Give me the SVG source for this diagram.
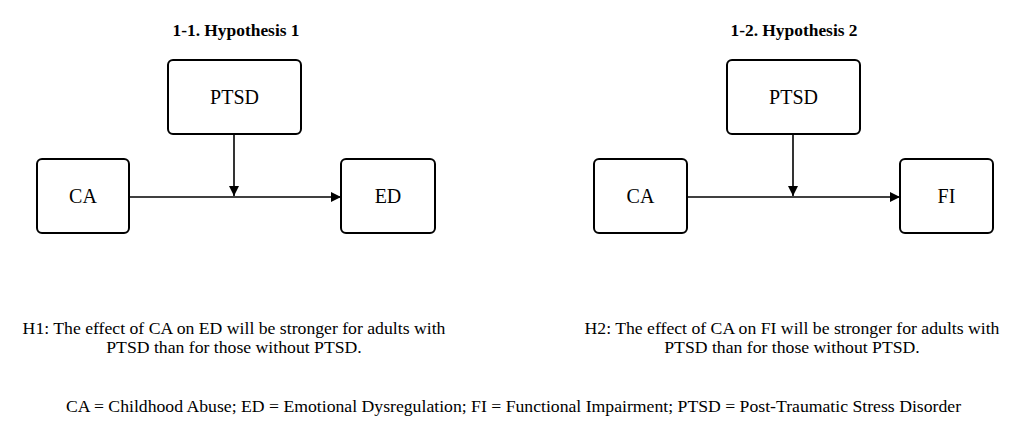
<svg xmlns="http://www.w3.org/2000/svg" width="1024" height="445" viewBox="0 0 1024 445">
<style>
.box{fill:#fff;stroke:#000;stroke-width:2}
.lbl{font-family:"Liberation Serif",serif;font-size:20px;text-anchor:middle;fill:#000}
.ttl{font-family:"Liberation Serif",serif;font-size:17.4px;font-weight:bold;text-anchor:middle;fill:#000}
.txt{font-family:"Liberation Serif",serif;font-size:17.7px;text-anchor:middle;fill:#000}
.edge{stroke:#000;stroke-width:1.6;fill:none;marker-end:url(#arr)}
</style>
<defs>
<marker id="arr" viewBox="0 0 10 10" refX="10" refY="5" markerWidth="11" markerHeight="10" markerUnits="userSpaceOnUse" orient="auto"><path d="M0,0 L10,5 L0,10 z" fill="#000"/></marker>
</defs>
<rect width="1024" height="445" fill="#fff"/>
<text class="ttl" x="236" y="36">1-1. Hypothesis 1</text>
<text class="ttl" x="794" y="36">1-2. Hypothesis 2</text>
<g id="connectors">
<path class="edge" d="M129,197 L341,197"/>
<path class="edge" d="M234,134 L234,196"/>
<path class="edge" d="M687,197 L900,197"/>
<path class="edge" d="M793,134 L793,196"/>
</g>
<g id="h1-ptsd"><rect class="box" x="168" y="60" width="133" height="74" rx="5"/><text class="lbl" x="234.5" y="104">PTSD</text></g>
<g id="h1-ca"><rect class="box" x="37" y="159" width="92" height="74" rx="5"/><text class="lbl" x="83" y="203">CA</text></g>
<g id="h1-ed"><rect class="box" x="341" y="159" width="94" height="74" rx="5"/><text class="lbl" x="388" y="203">ED</text></g>
<g id="h2-ptsd"><rect class="box" x="727" y="60" width="133" height="74" rx="5"/><text class="lbl" x="793.5" y="104">PTSD</text></g>
<g id="h2-ca"><rect class="box" x="594" y="159" width="93" height="74" rx="5"/><text class="lbl" x="640.5" y="203">CA</text></g>
<g id="h2-fi"><rect class="box" x="900" y="159" width="93" height="74" rx="5"/><text class="lbl" x="946.5" y="203">FI</text></g>
<text class="txt" x="234" y="334">H1: The effect of CA on ED will be stronger for adults with</text>
<text class="txt" x="234" y="353">PTSD than for those without PTSD.</text>
<text class="txt" x="792" y="334">H2: The effect of CA on FI will be stronger for adults with</text>
<text class="txt" x="792" y="353">PTSD than for those without PTSD.</text>
<text class="txt" x="513.5" y="412">CA = Childhood Abuse; ED = Emotional Dysregulation; FI = Functional Impairment; PTSD = Post-Traumatic Stress Disorder</text>
</svg>
